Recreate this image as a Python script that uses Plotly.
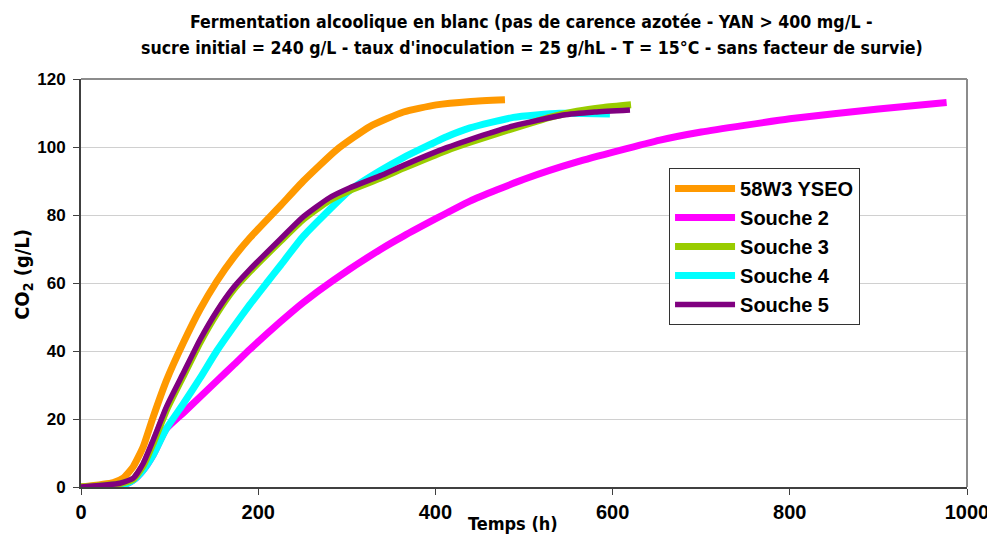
import plotly.graph_objects as go

# ---- data (time in h, CO2 in g/L) ----
t_58w3 = [0, 36.4, 47.7, 59, 70.3, 81.6, 96.7, 115.5, 134.3, 153.2, 171.9, 190.7, 224.6, 251, 288.6, 326, 364, 401, 440, 478.5]
c_58w3 = [0, 1.3, 2.6, 6, 11.9, 20.7, 31.5, 42.4, 52.2, 60.5, 67.4, 73.3, 82.6, 90, 99.2, 106, 110.3, 112.4, 113.4, 113.9]

t_s2 = [0, 40, 47.7, 59, 70.3, 81.6, 96, 115.5, 134.3, 153.2, 171.9, 190.7, 224.6, 250.9, 284.7, 337.5, 364, 439, 500, 560, 653.5, 700, 800, 900, 977]
c_s2 = [0, 0.3, 0.6, 2, 5, 9.5, 17, 21.8, 26.5, 31.2, 35.8, 40.5, 48.5, 54.3, 60.8, 69.8, 73.8, 84.1, 90.5, 95.6, 102, 104.4, 108.3, 111.2, 113.1]

t_s3 = [0, 44, 59, 70.3, 81.6, 96.7, 115.5, 134.3, 153.2, 171.9, 190.7, 224.6, 251, 280, 303.6, 337.5, 364, 412.7, 439, 488, 530, 560, 590, 620.8]
c_s3 = [0, 1, 2.3, 6.3, 13, 22.8, 32.7, 42.5, 51, 58, 63.4, 72.2, 78.8, 84.3, 87.3, 90.8, 93.8, 99, 101.4, 105.5, 108.8, 110.5, 111.6, 112.4]

t_s4 = [0, 40, 47.7, 59, 70.3, 81.6, 96, 115.5, 134.3, 153.2, 171.9, 190.7, 209.5, 224.6, 251, 303.6, 337.5, 364, 412.7, 439, 488, 540, 597]
c_s4 = [0, 0.3, 0.6, 2, 5, 9.5, 17, 24.5, 32, 40, 47, 53.7, 60, 65, 73.8, 87.3, 93, 96.9, 103, 105.6, 108.7, 109.9, 109.7]

t_s5 = [0, 44, 59, 70.3, 81.6, 96.7, 115.5, 134.3, 153.2, 171.9, 190.7, 224.6, 251, 280, 303.6, 337.5, 364, 412.7, 439, 488, 544, 580, 619.6]
c_s5 = [0, 1.1, 2.6, 7, 13.9, 23.7, 33.5, 43.3, 51.7, 58.6, 64, 72.8, 79.5, 85, 88, 91.5, 94.6, 99.8, 102.2, 106.2, 109.4, 110.3, 110.9]

names = ["58W3 YSEO", "Souche 2", "Souche 3", "Souche 4", "Souche 5"]
colors = ["#FF9900", "#FF00FF", "#99CC00", "#00FFFF", "#800080"]

x_ticks = [0, 200, 400, 600, 800, 1000]
y_ticks = [0, 20, 40, 60, 80, 100, 120]

title_l1 = "Fermentation alcoolique en blanc (pas de carence azotée - YAN > 400 mg/L -"
title_l2 = "sucre initial = 240 g/L - taux d'inoculation = 25 g/hL - T = 15°C - sans facteur de survie)"

series = {
    "58W3 YSEO": (t_58w3, c_58w3),
    "Souche 2": (t_s2, c_s2),
    "Souche 3": (t_s3, c_s3),
    "Souche 4": (t_s4, c_s4),
    "Souche 5": (t_s5, c_s5),
}

COND = "Liberation Sans Narrow, Arial Narrow, DejaVu Sans Condensed, sans-serif"
SANS = "Liberation Sans, Arial, sans-serif"

fig = go.Figure()
draw_order = ["Souche 2", "Souche 4", "58W3 YSEO", "Souche 3", "Souche 5"]
for nm in draw_order:
    i = names.index(nm)
    t, c = series[nm]
    fig.add_trace(go.Scatter(
        x=t, y=c, mode="lines", name=nm, legendrank=i + 1,
        line=dict(color=colors[i], width=5.5 if nm == "Souche 5" else 7,
                  shape="spline", smoothing=0.5),
    ))

fig.update_layout(
    width=995, height=535,
    margin=dict(l=73, r=36, t=71, b=56, autoexpand=False),
    paper_bgcolor="white", plot_bgcolor="white",
    showlegend=True,
    legend=dict(x=0.6637, y=0.782, xanchor="left", yanchor="top",
                bgcolor="white", bordercolor="#333333", borderwidth=1,
                font=dict(family=SANS, size=20, color="black", weight="bold"),
                tracegroupgap=0, itemwidth=60),
    xaxis=dict(range=[0, 1000], tickvals=x_ticks, showgrid=False, zeroline=False,
               automargin=False,
               showline=True, linecolor="#404040", linewidth=2,
               ticks="outside", ticklen=6, tickcolor="#404040", tickwidth=1,
               tickfont=dict(family=SANS, size=20, color="black", weight="bold")),
    yaxis=dict(range=[0, 120], tickvals=y_ticks, showgrid=True, gridcolor="#d0d0d0",
               gridwidth=1, zeroline=False, automargin=False,
               showline=True, linecolor="#404040", linewidth=2,
               ticks="outside", ticklen=6, tickcolor="#404040", tickwidth=1,
               ticklabelstandoff=4,
               tickfont=dict(family=SANS, size=17, color="black", weight="bold")),
    shapes=[dict(type="line", xref="paper", yref="paper", x0=0, x1=1, y0=1, y1=1,
                 line=dict(color="#8c8c8c", width=2)),
            dict(type="line", xref="paper", yref="paper", x0=1, x1=1, y0=0, y1=1,
                 line=dict(color="#8c8c8c", width=2))],
    annotations=[
        dict(text=title_l1, xref="paper", yref="paper", x=0.509, y=1.0, yshift=57,
             xanchor="center", yanchor="middle", showarrow=False,
             font=dict(family=COND, size=17.6, color="black", weight="bold")),
        dict(text=title_l2, xref="paper", yref="paper", x=0.509, y=1.0, yshift=31,
             xanchor="center", yanchor="middle", showarrow=False,
             font=dict(family=COND, size=17.6, color="black", weight="bold")),
        dict(text="Temps (h)", xref="paper", yref="paper", x=0.4876, y=0, yshift=-36,
             xanchor="center", yanchor="middle", showarrow=False,
             font=dict(family=COND, size=18, color="black", weight="bold")),
        dict(text="CO<sub>2</sub> (g/L)", xref="paper", yref="paper", x=0, xshift=-58,
             y=0.52, xanchor="center", yanchor="middle", textangle=-90, showarrow=False,
             font=dict(family=COND, size=20, color="black", weight="bold")),
    ],
)

fig.write_html("out.html")
